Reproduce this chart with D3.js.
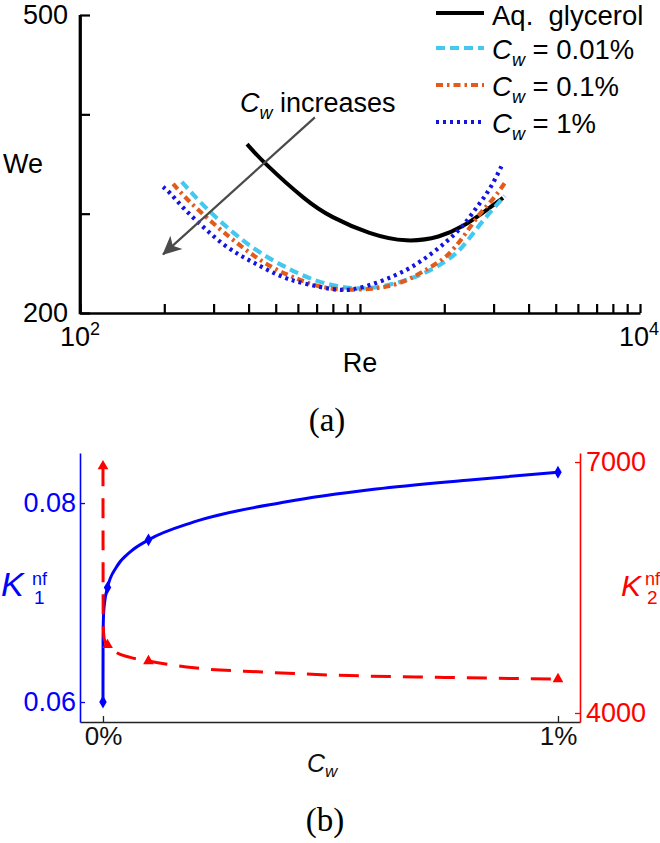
<!DOCTYPE html>
<html><head><meta charset="utf-8">
<script src="https://cdn.jsdelivr.net/npm/d3@7"></script>
<style>
body{margin:0;background:#fff}
svg{display:block}
text{font-family:"Liberation Sans",Arial,sans-serif}
</style>
</head><body>
<svg id="c" width="660" height="843"></svg>
<script>
// ---------- Panel (a) data ----------
const reTicks = [100,200,300,400,500,600,700,800,900,1000,2000,3000,4000,5000,6000,7000,8000,9000,10000];
const weTicks = [200,300,400,500];
const weTickLabels = ["200","","","500"];
const seriesNames = ["Aq.  glycerol","0.01%","0.1%","1%"];

const glyRe = [395, 450, 647, 781, 1086, 1472, 1931, 2333, 2750, 3242];
const glyWe = [370, 352, 312, 297, 279, 271, 276, 287, 301, 316];

const c001Re = [231, 273, 338, 422, 540, 702, 921, 1179, 1638, 2045, 2333, 2683, 3290];
const c001We = [332, 309, 285, 263, 246, 231, 224, 225, 237, 252, 266, 290, 318];

const c01Re = [215, 243, 316, 373, 429, 505, 611, 720, 870, 1179, 1472, 1778, 2045, 2333, 2683, 2985, 3290];
const c01We = [330, 313, 284, 268, 255, 243, 233, 226, 223, 224, 232, 246, 256, 276, 301, 314, 331];

const c1Re = [198, 210, 231, 258, 287, 324, 367, 415, 477, 549, 647, 781, 921, 1179, 1472, 1735, 2045, 2333, 2617, 2913, 3242];
const c1We = [327, 321, 307, 294, 282, 269, 259, 251, 242, 234, 229, 224, 222, 231, 243, 256, 272, 287, 307, 324, 351];

const arrowFrom = [690, 397];   // [Re, We]
const arrowTo = [198, 259];

// ---------- Panel (b) data ----------
const cwTicks = [0, 1];
const k1Ticks = [0.06, 0.08];
const k2Ticks = [4000, 7000];

const cwMarks = [0, 0.01, 0.1, 1];
const k1Marks = [0.0600, 0.0715, 0.0763, 0.0831];
const k2Marks = [6950, 4813, 4621, 4406];

const k1CurveC = [0, 0.0002, 0.001, 0.003, 0.01, 0.03, 0.06, 0.1, 0.2, 0.4, 0.6, 0.8, 1];
const k1CurveV = [0.0600, 0.0660, 0.0685, 0.0698, 0.0715, 0.0736, 0.0751, 0.0763, 0.0781, 0.0801, 0.0814, 0.0823, 0.0831];

const k2CurveC = [0, 0.0005, 0.003, 0.01, 0.03, 0.06, 0.1, 0.2, 0.35, 0.5, 0.75, 1];
const k2CurveV = [6950, 5050, 4880, 4813, 4720, 4665, 4621, 4540, 4490, 4454, 4425, 4406];

// ---------- drawing ----------
const svg = d3.select("#c");
const FS = 27;
const zip = (a,b) => a.map((v,i) => [v,b[i]]);

// Panel (a) scales
const xA = d3.scaleLog().domain([100, 10000]).range([80, 640]);
const yA = d3.scaleLinear().domain([200, 500]).range([313, 15]);

const gA = svg.append("g");

const yAxisA = d3.axisLeft(yA).tickValues(weTicks).tickSize(-10).tickSizeOuter(0).tickPadding(12)
  .tickFormat((d,i) => weTickLabels[i]);
const gyA = gA.append("g").attr("transform","translate(80,0)").call(yAxisA);
const xAxisA = d3.axisBottom(xA).tickValues(reTicks).tickSize(-9).tickSizeOuter(0).tickFormat("");
const gxA = gA.append("g").attr("transform","translate(0,313)").call(xAxisA);
[gyA, gxA].forEach(g => {
  g.select(".domain").attr("stroke","#000").attr("stroke-width",2.7);
  g.selectAll(".tick line").attr("stroke","#000").attr("stroke-width",2.2);
  g.selectAll(".tick text").attr("fill","#000").style("font-size",FS+"px").style("font-family","'Liberation Sans',Arial,sans-serif");
});
gA.append("line").attr("x1",80).attr("x2",80).attr("y1",yA(500)).attr("y2",314.3).attr("stroke","#000").attr("stroke-width",2.7);

// decade labels
[[100,"middle",xA(100)],[10000,"end",659]].forEach(([v,anchor,x]) => {
  const t = gA.append("text").attr("x", x).attr("y", 346).attr("text-anchor",anchor)
    .style("font-size",FS+"px").attr("fill","#000");
  t.append("tspan").text("10");
  t.append("tspan").attr("dy",-11).style("font-size","18px").text(String(Math.round(Math.log10(v))));
});
gA.append("text").attr("x", xA(1000)).attr("y",372).attr("text-anchor","middle").style("font-size",FS+"px").text("Re");
gA.append("text").attr("x", 3).attr("y",173).style("font-size",FS+"px").text("We");

// curves
const lineA = d3.line().x(d => xA(d[0])).y(d => yA(d[1])).curve(d3.curveBasis);
const styles = [
  {stroke:"#000000", dash:null, w:4},
  {stroke:"#45c8f0", dash:"9,5", w:4.2},
  {stroke:"#e35b1c", dash:"7,4,2.5,4", w:4.2},
  {stroke:"#1414e0", dash:"3,4", w:4.2}
];
const seriesA = [zip(glyRe,glyWe), zip(c001Re,c001We), zip(c01Re,c01We), zip(c1Re,c1We)];
[0,1,2,3].forEach(i => {
  const s = styles[i];
  gA.append("path").datum(seriesA[i]).attr("d", lineA)
    .attr("fill","none").attr("stroke",s.stroke).attr("stroke-width",s.w)
    .attr("stroke-dasharray",s.dash).attr("stroke-linecap","butt");
});

// arrow annotation
const defs = svg.append("defs");
defs.append("marker").attr("id","ah").attr("viewBox","0 0 20 20").attr("refX",18).attr("refY",10)
  .attr("markerWidth",20).attr("markerHeight",20).attr("markerUnits","userSpaceOnUse").attr("orient","auto")
  .append("path").attr("d","M0,1 L19,10 L0,19 L5,10 Z").attr("fill","#4a4a4a");
gA.append("line").attr("x1",xA(arrowFrom[0])).attr("y1",yA(arrowFrom[1]))
  .attr("x2",xA(arrowTo[0])).attr("y2",yA(arrowTo[1]))
  .attr("stroke","#4a4a4a").attr("stroke-width",2.2).attr("marker-end","url(#ah)");
{
  const t = gA.append("text").attr("x",240).attr("y",112).style("font-size","27px");
  t.append("tspan").style("font-style","italic").text("C");
  t.append("tspan").style("font-style","italic").style("font-size","18px").attr("dy",7).text("w");
  t.append("tspan").attr("dy",-7).text(" increases");
}

// legend
const legY = [13, 48, 85, 122];
seriesNames.forEach((name,i) => {
  const s = styles[i];
  gA.append("line").attr("x1",436).attr("x2",484).attr("y1",legY[i]).attr("y2",legY[i])
    .attr("stroke",s.stroke).attr("stroke-width",s.w).attr("stroke-dasharray",s.dash);
  const t = gA.append("text").attr("x",492).attr("y",legY[i]+11).style("font-size","27.5px");
  if (i === 0) {
    t.style("white-space","pre").attr("y",legY[i]+12).text(name);
  } else {
    t.append("tspan").style("font-style","italic").text("C");
    t.append("tspan").style("font-style","italic").style("font-size","18px").attr("dy",7).text("w");
    t.append("tspan").attr("dy",-7).text(" = " + name);
  }
});

svg.append("text").attr("x",327).attr("y",431).attr("text-anchor","middle")
  .style("font-family","'Liberation Serif','Times New Roman',serif").style("font-size","33px").text("(a)");

// Panel (b)
const xB = d3.scaleLinear().domain([-0.0505, 1.0484]).range([80, 580]);
const yK1 = d3.scaleLinear().domain([0.05799, 0.08503]).range([722, 453]);
const yK2 = d3.scaleLinear().domain([3892.4, 7107.6]).range([722, 453]);
const gB = svg.append("g");

const gxB = gB.append("g").attr("transform","translate(0,722)")
  .call(d3.axisBottom(xB).tickValues(cwTicks).tickSize(-6).tickSizeOuter(0).tickPadding(5).tickFormat(d => d + "%"));
gxB.select(".domain").attr("stroke","#222").attr("stroke-width",1.6);
gxB.selectAll(".tick line").attr("stroke","#222").attr("stroke-width",1.3);
gxB.selectAll(".tick text").attr("fill","#111").style("font-size","26px").style("font-family","'Liberation Sans',Arial,sans-serif");

const gy1 = gB.append("g").attr("transform","translate(80,0)")
  .call(d3.axisLeft(yK1).tickValues(k1Ticks).tickSize(-5).tickSizeOuter(0).tickPadding(4).tickFormat(d3.format(".2f")));
gy1.select(".domain").attr("stroke","#0000ff").attr("stroke-width",1.6);
gy1.selectAll(".tick line").attr("stroke","#0000ff").attr("stroke-width",1.3);
gy1.selectAll(".tick text").attr("fill","#0000ff").style("font-size",FS+"px").style("font-family","'Liberation Sans',Arial,sans-serif");

const gy2 = gB.append("g").attr("transform","translate(580,0)")
  .call(d3.axisRight(yK2).tickValues(k2Ticks).tickSize(-5).tickSizeOuter(0).tickPadding(6).tickFormat(d3.format("d")));
gy2.select(".domain").attr("stroke","#ff0000").attr("stroke-width",1.6);
gy2.selectAll(".tick line").attr("stroke","#ff0000").attr("stroke-width",1.3);
gy2.selectAll(".tick text").attr("fill","#ff0000").style("font-size",FS+"px").style("font-family","'Liberation Sans',Arial,sans-serif");

// curves
const lineK1 = d3.line().x(d => xB(d[0])).y(d => yK1(d[1])).curve(d3.curveMonotoneX);
const lineK2 = d3.line().x(d => xB(d[0])).y(d => yK2(d[1])).curve(d3.curveMonotoneX);
gB.append("path").datum(zip(k1CurveC,k1CurveV)).attr("d",lineK1).attr("fill","none")
  .attr("stroke","#0000ff").attr("stroke-width",3);
gB.append("path").datum(zip(k2CurveC,k2CurveV)).attr("d",lineK2).attr("fill","none")
  .attr("stroke","#ff0000").attr("stroke-width",3).attr("stroke-dasharray","20,12");

gB.selectAll(".k1m").data(zip(cwMarks,k1Marks)).enter().append("path")
  .attr("transform", d => `translate(${xB(d[0])},${yK1(d[1])})`)
  .attr("d", d3.symbol().type(d3.symbolDiamond).size(48)).attr("fill","#0000ff");
gB.selectAll(".k2m").data(zip(cwMarks,k2Marks)).enter().append("path")
  .attr("transform", d => `translate(${xB(d[0])},${yK2(d[1])})`)
  .attr("d", d3.symbol().type(d3.symbolTriangle).size(50)).attr("fill","#ff0000");

// axis titles
{
  const t = gB.append("text").attr("x",307).attr("y",772).style("font-size","25px").attr("fill","#111");
  t.append("tspan").style("font-style","italic").text("C");
  t.append("tspan").style("font-style","italic").style("font-size","17px").attr("dy",5).text("w");
}
function kLabel(x, supX, sub, color, ksize) {
  const t = gB.append("text").attr("x",x).attr("y",596).attr("fill",color);
  t.append("tspan").style("font-size",ksize+"px").style("font-style","italic").text("K");
  t.append("tspan").attr("x",supX).attr("y",585).style("font-size","18px").text("nf");
  t.append("tspan").attr("x",supX+2).attr("y",604).style("font-size","19px").text(sub);
}
kLabel(1, 32, "1", "#0000ff", 34);
kLabel(621, 645, "2", "#ff0000", 30);

svg.append("text").attr("x",325).attr("y",831).attr("text-anchor","middle")
  .style("font-family","'Liberation Serif','Times New Roman',serif").style("font-size","33px").text("(b)");
</script>
</body></html>
